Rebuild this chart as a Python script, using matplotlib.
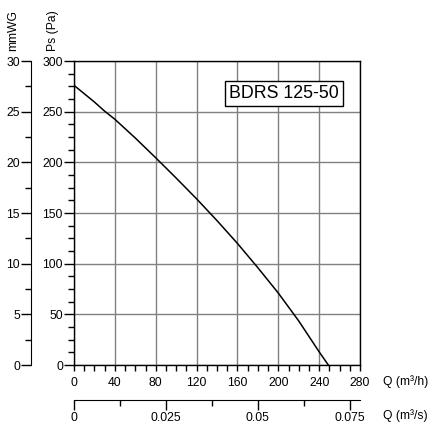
import matplotlib
matplotlib.use("Agg")
import matplotlib.pyplot as plt
import numpy as np
from matplotlib.ticker import MultipleLocator, FixedLocator

plt.rcParams['font.family'] = ['Liberation Sans', 'DejaVu Sans']

# data
q_m3h = [0, 20, 30, 40, 60, 80, 100, 120, 140, 160, 180, 200, 220, 240, 249]
ps_pa = [276, 259.5, 250.5, 242.5, 224, 204.5, 184.5, 164, 142.5, 120, 96, 71, 43.5, 13, 0]
title_label = "BDRS 125-50"
x_ticks = [0, 40, 80, 120, 160, 200, 240, 280]
y_ticks = [0, 50, 100, 150, 200, 250, 300]
mm_ticks = [0, 5, 10, 15, 20, 25, 30]
qs_ticks = [0, 0.025, 0.05, 0.075]
qs_labels = ["0", "0.025", "0.05", "0.075"]

FS = 8.7
W, H = 432, 430
fig = plt.figure(figsize=(W/100, H/100), dpi=100)

def fx(px): return px / W
def fy(py): return 1 - py / H

x0, x1, ytop, ybot = 74, 360, 61, 365
ax = fig.add_axes([fx(x0), fy(ybot), fx(x1 - x0), (ybot - ytop) / H])
ax.set_xlim(0, 280)
ax.set_ylim(0, 300)
ax.plot(q_m3h, ps_pa, color='black', lw=1.1, zorder=3)
ax.xaxis.set_major_locator(FixedLocator(x_ticks))
ax.xaxis.set_minor_locator(MultipleLocator(10))
ax.yaxis.set_major_locator(FixedLocator(y_ticks))
ax.yaxis.set_minor_locator(MultipleLocator(12.5))
ax.grid(True, which='major', color='#808080', lw=1.0)
for s in ax.spines.values():
    s.set_color('black')
    s.set_linewidth(1.0)
ax.tick_params(axis='x', which='major', length=4, width=1, pad=4.5, labelsize=FS)
ax.tick_params(axis='x', which='minor', length=4, width=1)
ax.tick_params(axis='y', which='major', length=7, width=1, pad=1, labelsize=FS)
ax.tick_params(axis='y', which='minor', length=4.5, width=1)
fig.text(fx(284), fy(93.5), title_label, fontsize=12.8,
         ha='center', va='center',
         bbox=dict(boxstyle='square,pad=0.22', fc='white', ec='black', lw=1.0),
         zorder=5)

# mmWG axis
axm = fig.add_axes([fx(31), fy(ybot), 0.001, (ybot - ytop) / H])
axm.set_ylim(0, 30)
axm.set_xticks([])
for k in ['top', 'right', 'bottom']:
    axm.spines[k].set_visible(False)
axm.patch.set_visible(False)
axm.yaxis.set_major_locator(FixedLocator(mm_ticks))
axm.yaxis.set_minor_locator(MultipleLocator(2.5))
axm.tick_params(axis='y', which='major', length=7, width=1, pad=1, labelsize=FS)
axm.tick_params(axis='y', which='minor', length=4.5, width=1)

# m3/s axis
axs = fig.add_axes([fx(x0), fy(400), fx(x1 - x0), 0.001])
axs.set_xlim(0, 280 / 3600)
axs.set_yticks([])
for k in ['top', 'right', 'left']:
    axs.spines[k].set_visible(False)
axs.patch.set_visible(False)
axs.xaxis.set_major_locator(FixedLocator(qs_ticks))
axs.set_xticklabels(qs_labels)
axs.xaxis.set_minor_locator(FixedLocator([0.0125, 0.0375, 0.0625]))
axs.tick_params(axis='x', which='major', length=7, width=1, pad=1.5, labelsize=FS)
axs.tick_params(axis='x', which='minor', length=4.5, width=1)

fig.text(fx(383), fy(382), "Q (m³/h)", fontsize=FS, ha='left', va='center')
fig.text(fx(383), fy(416), "Q (m³/s)", fontsize=FS, ha='left', va='center')
fig.text(fx(13), fy(51), "mmWG", fontsize=FS, rotation=90, ha='center', va='bottom')
fig.text(fx(53), fy(51), "Ps (Pa)", fontsize=FS, rotation=90, ha='center', va='bottom')

fig.savefig("out.png", dpi=100)
